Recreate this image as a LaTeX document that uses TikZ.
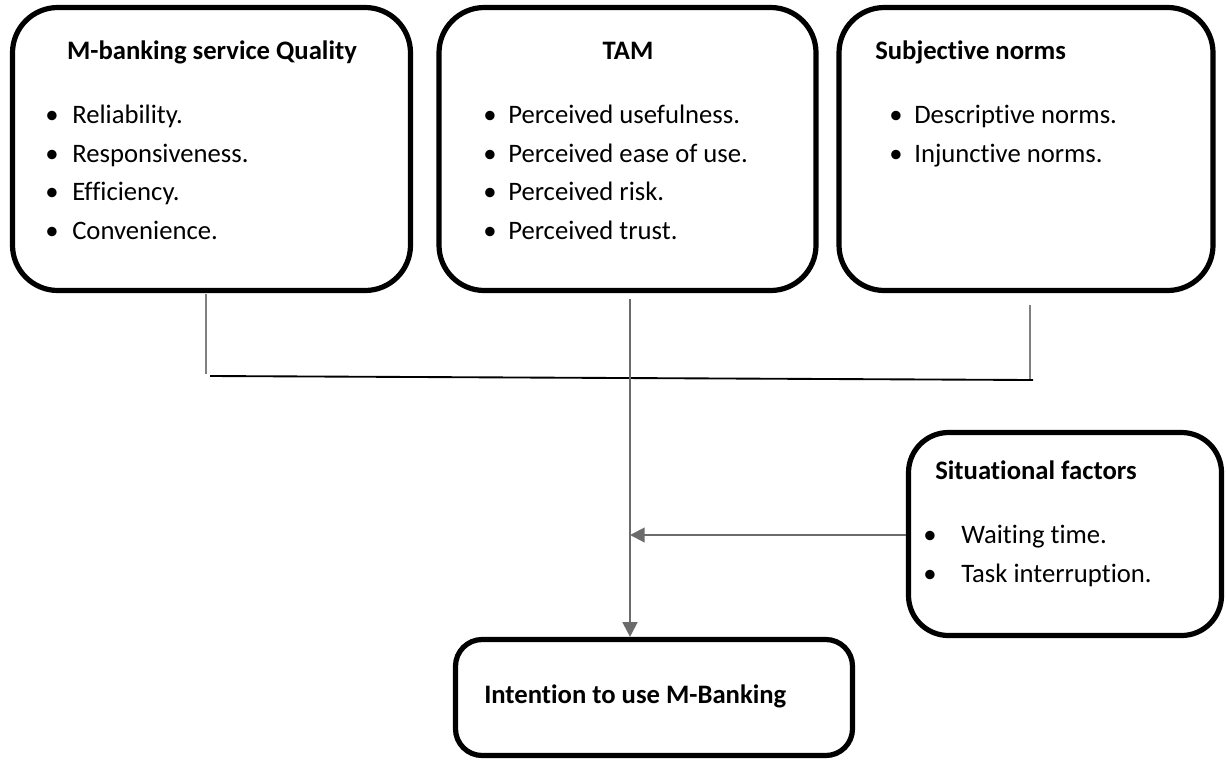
\documentclass[tikz,border=0pt]{standalone}
\usepackage{fontspec}
\setmainfont{Carlito}[Ligatures={NoCommon}]
\usetikzlibrary{arrows.meta}
\begin{document}
\begin{tikzpicture}[x=0.75pt,y=-0.75pt,
  box/.style={draw=black,line width=3.9pt,rounded corners=34pt,inner sep=0pt,fill=white},
  ttl/.style={font=\fontsize{20}{24}\selectfont\bfseries,inner sep=0pt,anchor=base west},
  itm/.style={font=\fontsize{20}{24}\selectfont,inner sep=0pt,anchor=base west},
  bul/.style={font=\fontsize{20}{24}\selectfont,inner sep=0pt,anchor=base},
  stub/.style={draw=black!50,line width=2.2pt},
  arr/.style={draw=black!58,line width=1.6pt,-{Triangle[length=11pt,width=11pt]}}]
\useasboundingbox (0,0) rectangle (1226,761);
% boxes
\node[box,minimum width=398pt*0.75,minimum height=283pt*0.75] (q) at (211.5,149) {};
\node[box,minimum width=377pt*0.75,minimum height=283pt*0.75] (tam) at (627.5,149) {};
\node[box,minimum width=374pt*0.75,minimum height=283pt*0.75] (sn) at (1026,149) {};
\node[box,rounded corners=30pt,minimum width=313pt*0.75,minimum height=203pt*0.75] (sit) at (1065,534) {};
\node[box,rounded corners=20pt,minimum width=397pt*0.75,minimum height=116pt*0.75] (int) at (654,697.5) {};
% box 1 text
\node[ttl,anchor=base] (qt) at (212,59) {M-banking service Quality};
\node[bul] (qb1) at (52,123) {•}; \node[itm] (qi1) at (72,123) {Reliability.};
\node[bul] (qb2) at (52,162) {•}; \node[itm] (qi2) at (72,162) {Responsiveness.};
\node[bul] (qb3) at (52,200) {•}; \node[itm] (qi3) at (72,200) {Efficiency.};
\node[bul] (qb4) at (52,239) {•}; \node[itm] (qi4) at (72,239) {Convenience.};
% box 2 text
\node[ttl,anchor=base] (tt) at (628,59) {TAM};
\node[bul] (tb1) at (490,123) {•}; \node[itm] (ti1) at (508,123) {Perceived usefulness.};
\node[bul] (tb2) at (490,162) {•}; \node[itm] (ti2) at (508,162) {Perceived ease of use.};
\node[bul] (tb3) at (490,200) {•}; \node[itm] (ti3) at (508,200) {Perceived risk.};
\node[bul] (tb4) at (490,239) {•}; \node[itm] (ti4) at (508,239) {Perceived trust.};
% box 3 text
\node[ttl] (st) at (875,59) {Subjective norms};
\node[bul] (sb1) at (896,123) {•}; \node[itm] (si1) at (914,123) {Descriptive norms.};
\node[bul] (sb2) at (896,162) {•}; \node[itm] (si2) at (914,162) {Injunctive norms.};
% situational text
\node[ttl] (xt) at (935,479) {Situational factors};
\node[bul] (xb1) at (930,543) {•}; \node[itm] (xi1) at (961,543) {Waiting time.};
\node[bul] (xb2) at (930,582) {•}; \node[itm] (xi2) at (961,582) {Task interruption.};
% intention text
\node[ttl] (it) at (484,703) {Intention to use M-Banking};
% connectors
\coordinate (a1) at (206,294); \coordinate (a2) at (206,374);
\coordinate (c1) at (630,299); \coordinate (j) at (630,535);
\coordinate (b1) at (1030,305); \coordinate (b2) at (1030,380);
\coordinate (h1) at (210,376); \coordinate (h2) at (1033,380);
\draw[stub] (a1) -- (a2);
\draw[stub] (b1) -- (b2);
\draw[black,line width=1.4pt] (h1) -- (h2);
\draw[arr] (c1) -- (int.north -| c1);
\draw[arr] (sit.west |- j) -- (j);
\end{tikzpicture}
\end{document}
